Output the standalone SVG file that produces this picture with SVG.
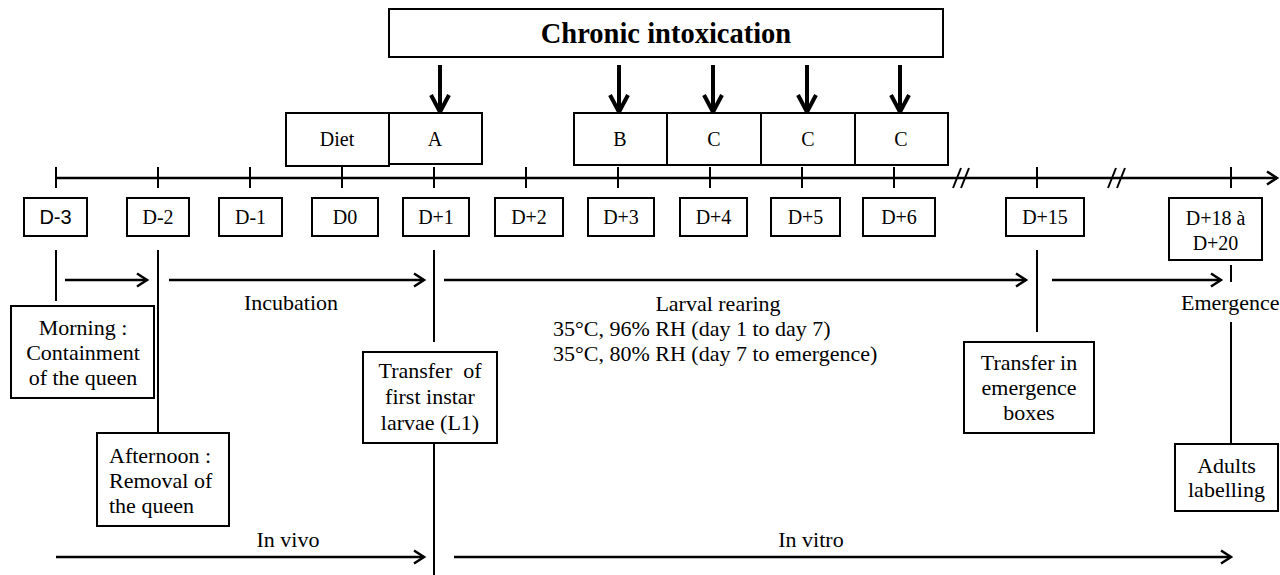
<svg xmlns="http://www.w3.org/2000/svg" width="1280" height="575" viewBox="0 0 1280 575">
<style>
.ln{stroke:#000;stroke-width:2;fill:none}
.ar{stroke:#000;stroke-width:2.5;fill:none}
.bar{stroke:#000;stroke-width:4;fill:none}
.bx{fill:#fff;stroke:#000;stroke-width:2}
.t{font-family:"Liberation Serif","Times New Roman",serif;font-size:22px;fill:#000}
.d{font-family:"Liberation Serif","Times New Roman",serif;font-size:20px;fill:#000;text-anchor:middle}
.s{font-family:"Liberation Sans",Arial,sans-serif}
.m{text-anchor:middle}
</style>
<defs>
<marker id="ah" markerUnits="userSpaceOnUse" markerWidth="16" markerHeight="16" refX="12" refY="8" orient="auto"><path d="M2,1.5 L12,8 L2,14.5" fill="none" stroke="#000" stroke-width="2.5"/></marker>
<marker id="bh" markerUnits="userSpaceOnUse" markerWidth="26" markerHeight="26" refX="19" refY="11" orient="auto"><path d="M2,2 L19,11 L2,20" fill="none" stroke="#000" stroke-width="4"/></marker>
</defs>
<rect width="1280" height="575" fill="#fff"/>

<g id="connectors">
<line class="ar" x1="56" y1="178" x2="1277" y2="178" marker-end="url(#ah)"/>
<path class="ln" d="M56,167V188 M158,167V188 M250,167V188 M342,167V188 M434,167V188 M526,167V188 M618,167V188 M710,167V188 M802,167V188 M894,167V188 M1037,167V188 M1231,167V188"/>
<path class="ln" d="M953,188L961,168 M961,188L969,168 M1108,188L1116,168 M1117,188L1125,168"/>
<line class="bar" x1="440" y1="65" x2="440" y2="112" marker-end="url(#bh)"/>
<line class="bar" x1="619" y1="65" x2="619" y2="112" marker-end="url(#bh)"/>
<line class="bar" x1="713" y1="65" x2="713" y2="112" marker-end="url(#bh)"/>
<line class="bar" x1="807" y1="65" x2="807" y2="112" marker-end="url(#bh)"/>
<line class="bar" x1="900" y1="65" x2="900" y2="112" marker-end="url(#bh)"/>
<path class="ln" d="M56,250V301 M158,250V433 M434,250V342 M434,443V575 M1037,250V332 M1231,265V282 M1231,322V444"/>
<line class="ar" x1="65" y1="280" x2="147" y2="280" marker-end="url(#ah)"/>
<line class="ar" x1="169" y1="280" x2="424" y2="280" marker-end="url(#ah)"/>
<line class="ar" x1="444" y1="280" x2="1026" y2="280" marker-end="url(#ah)"/>
<line class="ar" x1="1052" y1="280" x2="1221" y2="280" marker-end="url(#ah)"/>
<line class="ar" x1="56" y1="557" x2="424" y2="557" marker-end="url(#ah)"/>
<line class="ar" x1="454" y1="557" x2="1231" y2="557" marker-end="url(#ah)"/>
</g>

<g id="chronic"><rect class="bx" x="389" y="9" width="554" height="48"/><text class="t m" x="666" y="43" style="font-size:28.5px;font-weight:bold">Chronic intoxication</text></g>

<g id="diet"><rect class="bx" x="286" y="113" width="103" height="53"/><text class="d" x="337" y="146">Diet</text></g>
<g id="doseA"><rect class="bx" x="389" y="113" width="93" height="51"/><text class="d" x="435" y="146">A</text></g>
<g id="doseB"><rect class="bx" x="574" y="113" width="93" height="52"/><text class="d" x="620" y="146">B</text></g>
<g id="doseC1"><rect class="bx" x="667" y="113" width="94" height="52"/><text class="d" x="714" y="146">C</text></g>
<g id="doseC2"><rect class="bx" x="761" y="113" width="94" height="52"/><text class="d" x="808" y="146">C</text></g>
<g id="doseC3"><rect class="bx" x="855" y="113" width="93" height="52"/><text class="d" x="901" y="146">C</text></g>

<g id="dm3"><rect class="bx" x="24" y="198" width="63" height="38"/><text class="d s" x="55.5" y="224">D-3</text></g>
<g id="dm2"><rect class="bx" x="127" y="198" width="62" height="38"/><text class="d" x="158" y="224">D-2</text></g>
<g id="dm1"><rect class="bx" x="219" y="198" width="63" height="38"/><text class="d" x="250.5" y="224">D-1</text></g>
<g id="d0"><rect class="bx" x="312" y="198" width="66" height="38"/><text class="d" x="345" y="224">D0</text></g>
<g id="dp1"><rect class="bx" x="403" y="198" width="66" height="38"/><text class="d" x="436" y="224">D+1</text></g>
<g id="dp2"><rect class="bx" x="495" y="198" width="68" height="38"/><text class="d" x="529" y="224">D+2</text></g>
<g id="dp3"><rect class="bx" x="588" y="198" width="66" height="38"/><text class="d" x="621" y="224">D+3</text></g>
<g id="dp4"><rect class="bx" x="680" y="198" width="67" height="38"/><text class="d" x="713.5" y="224">D+4</text></g>
<g id="dp5"><rect class="bx" x="771" y="198" width="69" height="38"/><text class="d" x="805.5" y="224">D+5</text></g>
<g id="dp6"><rect class="bx" x="863" y="198" width="72" height="38"/><text class="d" x="899" y="224">D+6</text></g>
<g id="dp15"><rect class="bx" x="1006" y="198" width="78" height="38"/><text class="d" x="1045" y="224">D+15</text></g>
<g id="dp18"><rect class="bx" x="1169" y="198" width="93" height="62"/><text class="d" x="1215.5" y="225">D+18 à</text><text class="d" x="1215.5" y="250">D+20</text></g>

<g id="labels">
<text class="t m" x="291" y="310">Incubation</text>
<text class="t m" x="718" y="311">Larval rearing</text>
<text class="t" x="553" y="336">35°C, 96% RH (day 1 to day 7)</text>
<text class="t" x="553" y="361">35°C, 80% RH (day 7 to emergence)</text>
<text class="t" x="1181" y="310">Emergence</text>
<text class="t m" x="288" y="547">In vivo</text>
<text class="t m" x="811" y="547">In vitro</text>
</g>

<g id="morning"><rect class="bx" x="11" y="306" width="143" height="92"/>
<text class="t m" x="83" y="335">Morning :</text><text class="t m" x="83" y="360">Containment</text><text class="t m" x="83" y="385">of the queen</text></g>
<g id="afternoon"><rect class="bx" x="97" y="433" width="132" height="93"/>
<text class="t" x="109" y="463">Afternoon :</text><text class="t" x="109" y="488">Removal of</text><text class="t" x="109" y="513">the queen</text></g>
<g id="transfer"><rect class="bx" x="363" y="352" width="134" height="91"/>
<text class="t m" x="430" y="378" style="white-space:pre">Transfer  of</text><text class="t m" x="430" y="404">first instar</text><text class="t m" x="430" y="430">larvae (L1)</text></g>
<g id="transferboxes"><rect class="bx" x="964" y="342" width="130" height="91"/>
<text class="t m" x="1029" y="370">Transfer in</text><text class="t m" x="1029" y="395">emergence</text><text class="t m" x="1029" y="420">boxes</text></g>
<g id="adults"><rect class="bx" x="1175" y="444" width="103" height="67"/>
<text class="t m" x="1226.5" y="473">Adults</text><text class="t m" x="1226.5" y="497">labelling</text></g>
</svg>
